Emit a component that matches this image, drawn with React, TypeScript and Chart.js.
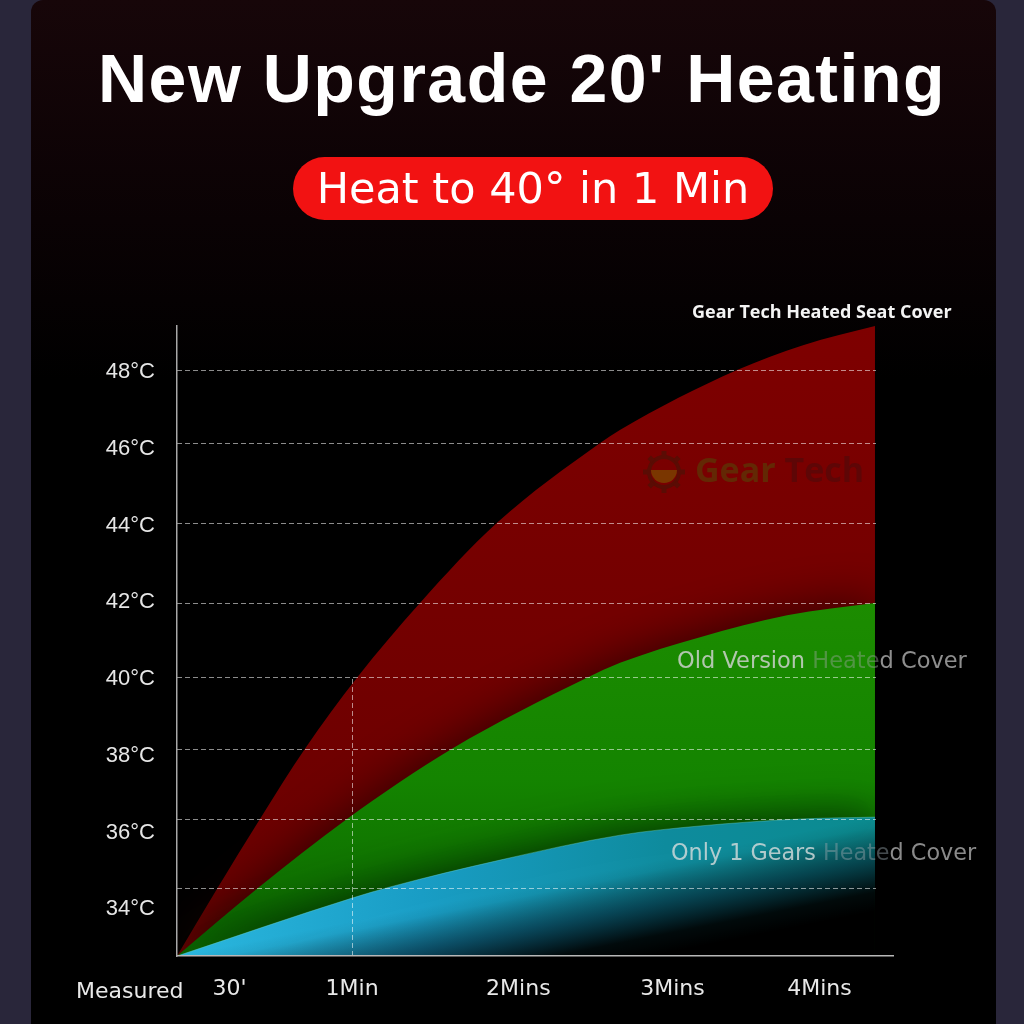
import React, { useEffect, useRef } from "react";
import { Chart, registerables } from "chart.js";

// ---------- data ----------
const gearTechMinutes = [0, 0.229, 0.474, 0.731, 1.028, 1.388, 1.828, 2.417, 2.53, 3.199, 3.576, 3.987];
const gearTechTemps = [32.78, 34.53, 36.35, 38.18, 40.03, 41.98, 44.07, 46.15, 46.49, 48.05, 48.7, 49.2];

const oldVersionMinutes = [0, 0.457, 0.971, 1.571, 2.342, 2.531, 2.988, 3.485, 3.987];
const oldVersionTemps = [32.78, 34.53, 36.35, 38.18, 40.03, 40.42, 41.09, 41.66, 41.98];

const oneGearMinutes = [0, 1.0, 1.217, 1.845, 2.531, 2.988, 3.559, 3.987];
const oneGearTemps = [32.78, 34.29, 34.58, 35.28, 35.93, 36.17, 36.35, 36.4];

const xTickValues = [0.3, 1, 1.95, 2.83, 3.67];
const xTickLabels = ["30'", "1Min", "2Mins", "3Mins", "4Mins"];
const yTickValues = [34, 36, 38, 40, 42, 44, 46, 48];
const gridValues = [34.53, 36.35, 38.17, 40.03, 41.98, 44.06, 46.15, 48.05];

const xMin = 0;
const xMax = 4.09;
const yMin = 32.78;
const yMax = 49.2;
const markerMinute = 1;
const markerTemp = 40;

// ---------- plugins ----------
const seriesShadow = {
  id: "seriesShadow",
  beforeDatasetDraw(chart: any, args: any) {
    const ds = chart.data.datasets[args.index];
    chart.ctx.save();
    if (ds && ds.shadowBlur) {
      chart.ctx.shadowColor = ds.shadowColor;
      chart.ctx.shadowBlur = ds.shadowBlur;
      chart.ctx.shadowOffsetX = 0;
      chart.ctx.shadowOffsetY = 0;
    }
  },
  afterDatasetDraw(chart: any) {
    chart.ctx.restore();
  },
};

Chart.register(seriesShadow);
Chart.register(...registerables);

const markerPlugin = {
  id: "oneMinuteMarker",
  afterDatasetsDraw(chart: any) {
    const { ctx, scales } = chart;
    const x = scales.x;
    const y = scales.y;
    const px = Math.round(x.getPixelForValue(markerMinute)) + 0.5;
    const top = y.getPixelForValue(markerTemp);
    const bottom = y.getPixelForValue(y.min);
    ctx.save();
    ctx.strokeStyle = "rgba(255,255,255,0.55)";
    ctx.lineWidth = 1;
    ctx.setLineDash([5, 3]);
    ctx.beginPath();
    ctx.moveTo(px, top);
    ctx.lineTo(px, bottom);
    ctx.stroke();
    ctx.restore();
  },
};

// gridlines stop where the series end; the x axis line keeps its full length
const gridClip = {
  id: "gridClip",
  afterDatasetsDraw(chart: any) {
    const { ctx, chartArea: a, scales } = chart;
    const endX = Math.ceil(scales.x.getPixelForValue(gearTechMinutes[gearTechMinutes.length - 1])) + 1;
    ctx.save();
    ctx.beginPath();
    ctx.rect(0, 0, endX, chart.height);
    ctx.rect(endX, a.bottom - 2, chart.width - endX, chart.height - a.bottom + 2);
    ctx.clip();
  },
  afterDraw(chart: any) {
    chart.ctx.restore();
  },
};

const toPoints = (xs: number[], ys: number[]) => xs.map((x, i) => ({ x, y: ys[i] }));

function redFill(c: any) {
  const a = c.chart.chartArea;
  if (!a) return "#760000";
  const g = c.chart.ctx.createLinearGradient(0, a.top, 0, a.bottom);
  g.addColorStop(0, "#7e0000");
  g.addColorStop(1, "#680000");
  return g;
}

function greenFill(c: any) {
  const a = c.chart.chartArea;
  if (!a) return "#148000";
  const top = c.chart.scales.y.getPixelForValue(42);
  const g = c.chart.ctx.createLinearGradient(0, top, 0, a.bottom);
  g.addColorStop(0, "#1c8c00");
  g.addColorStop(0.5, "#148400");
  g.addColorStop(1, "#0b6400");
  return g;
}

function cyanFill(c: any) {
  const chart = c.chart;
  const a = chart.chartArea;
  if (!a) return "#1a9cc0";
  const off = document.createElement("canvas");
  off.width = chart.width;
  off.height = chart.height;
  const o = off.getContext("2d") as CanvasRenderingContext2D;
  const h = o.createLinearGradient(a.left, 0, a.right - 18, 0);
  h.addColorStop(0, "#2cb8e0");
  h.addColorStop(0.35, "#1a9ec6");
  h.addColorStop(0.7, "#0f8c9e");
  h.addColorStop(1, "#0c8c90");
  o.fillStyle = h;
  o.fillRect(0, 0, off.width, off.height);
  const L = 92;
  const d = o.createLinearGradient(a.left, a.bottom, a.left + 0.195 * L, a.bottom + 0.981 * L);
  d.addColorStop(0, "rgba(0,0,0,0)");
  d.addColorStop(0.1, "rgba(0,0,0,0.05)");
  d.addColorStop(0.45, "rgba(0,12,24,0.55)");
  d.addColorStop(0.8, "rgba(0,0,0,0.93)");
  d.addColorStop(1, "rgba(0,0,0,1)");
  o.fillStyle = d;
  o.fillRect(0, 0, off.width, off.height);
  return chart.ctx.createPattern(off, "no-repeat");
}

// ---------- component ----------
export default function App() {
  const canvasRef = useRef<HTMLCanvasElement>(null);

  useEffect(() => {
    const canvas = canvasRef.current;
    if (!canvas) return;
    const chart = new Chart(canvas, {
      type: "line",
      data: {
        datasets: [
          {
            label: "Only 1 Gears Heated Cover",
            data: toPoints(oneGearMinutes, oneGearTemps),
            fill: "start",
            backgroundColor: cyanFill,
            borderColor: "rgba(120,220,215,0.35)",
            borderWidth: 1,
            pointRadius: 0,
            cubicInterpolationMode: "monotone",
            order: 1,
            shadowBlur: 45,
            shadowColor: "rgba(0,28,0,0.88)",
          } as any,
          {
            label: "Old Version Heated Cover",
            data: toPoints(oldVersionMinutes, oldVersionTemps),
            fill: "start",
            backgroundColor: greenFill,
            borderColor: "rgba(0,0,0,0)",
            borderWidth: 0,
            pointRadius: 0,
            cubicInterpolationMode: "monotone",
            order: 2,
            shadowBlur: 50,
            shadowColor: "rgba(34,0,0,0.88)",
          } as any,
          {
            label: "Gear Tech Heated Seat Cover",
            data: toPoints(gearTechMinutes, gearTechTemps),
            fill: "start",
            backgroundColor: redFill,
            borderColor: "rgba(0,0,0,0)",
            borderWidth: 0,
            pointRadius: 0,
            cubicInterpolationMode: "monotone",
            order: 3,
          } as any,
        ],
      },
      options: {
        animation: false,
        responsive: false,
        devicePixelRatio: 1,
        layout: { padding: { top: 326, right: 131, bottom: 0, left: 0 } },
        plugins: { legend: { display: false }, tooltip: { enabled: false } },
        scales: {
          x: {
            type: "linear",
            min: xMin,
            max: xMax,
            afterBuildTicks: (s: any) => {
              s.ticks = xTickValues.map((value) => ({ value }));
            },
            afterFit: (s: any) => {
              s.height = 68;
            },
            ticks: {
              autoSkip: false,
              maxRotation: 0,
              callback: (_v: any, i: number) => xTickLabels[i],
              font: { family: "DejaVu Sans", size: 22 },
              color: "#e8e8e8",
              padding: 20,
            },
            grid: { display: false, drawTicks: false },
            border: { display: true, color: "#b8b8b8", width: 1.5, z: 2 },
          },
          y: {
            type: "linear",
            position: "left",
            min: yMin,
            max: yMax,
            afterBuildTicks: (s: any) => {
              s.ticks = yTickValues.map((value) => ({ value }));
            },
            afterFit: (s: any) => {
              s.width = 177;
            },
            ticks: {
              callback: (v: any) => v + "°C",
              font: { family: "Liberation Sans", size: 22 },
              color: "#e6e6e6",
              padding: 22,
            },
            grid: { display: false, drawTicks: false },
            border: { display: true, color: "#a8a8a8", width: 1.5, z: 2 },
          },
          yGrid: {
            type: "linear",
            position: "right",
            min: yMin,
            max: yMax,
            afterBuildTicks: (s: any) => {
              s.ticks = gridValues.map((value) => ({ value }));
            },
            afterFit: (s: any) => {
              s.width = 0;
            },
            ticks: { display: false },
            grid: { display: true, color: "rgba(255,255,255,0.55)", lineWidth: 1, drawTicks: false, z: 1 },
            border: { display: false, dash: [5, 3] },
          },
        } as any,
      },
      plugins: [markerPlugin, gridClip],
    });
    return () => chart.destroy();
  }, []);

  const abs = (extra: React.CSSProperties): React.CSSProperties => ({
    position: "absolute",
    whiteSpace: "nowrap",
    lineHeight: 1,
    margin: 0,
    ...extra,
  });

  return (
    <div
      style={{
        position: "absolute",
        left: 0,
        top: 0,
        width: 1024,
        height: 1024,
        overflow: "hidden",
        background: "#29263a",
      }}
    >
      <div
        style={{
          position: "absolute",
          left: 31,
          top: 0,
          width: 965,
          height: 1060,
          borderRadius: "12px 12px 0 0",
          background: "linear-gradient(180deg, #170609 0px, #0a0204 220px, #000000 380px)",
        }}
      />
      <canvas
        ref={canvasRef}
        width={1024}
        height={1024}
        style={{ position: "absolute", left: 0, top: 0, width: 1024, height: 1024 }}
      />
      {/* title */}
      <div
        style={abs({
          left: 522,
          top: 44,
          transform: "translateX(-50%)",
          fontFamily: "'Liberation Sans', Arial, sans-serif",
          fontWeight: 700,
          fontSize: 68,
          letterSpacing: "1.5px",
          color: "#ffffff",
        })}
      >
        New Upgrade 20' Heating
      </div>
      {/* pill */}
      <div
        style={{
          position: "absolute",
          left: 293,
          top: 157,
          width: 480,
          height: 63,
          borderRadius: 32,
          background: "#f21212",
          color: "#ffffff",
          fontFamily: "'DejaVu Sans', sans-serif",
          fontSize: 43,
          lineHeight: "63px",
          textAlign: "center",
          whiteSpace: "nowrap",
        }}
      >
        Heat to 40° in 1 Min
      </div>
      {/* series labels */}
      <div
        style={abs({
          left: 692,
          top: 302,
          fontFamily: "'Open Sans', sans-serif",
          fontWeight: 700,
          fontSize: 18,
          color: "#f4f4f4",
        })}
      >
        Gear Tech Heated Seat Cover
      </div>
      <div style={abs({ left: 677, top: 649, fontFamily: "'DejaVu Sans', sans-serif", fontSize: 22.5 })}>
        <span style={{ color: "rgba(212,212,212,0.82)" }}>Old Version </span>
        <span style={{ color: "rgba(150,165,150,0.45)" }}>Heate</span>
        <span style={{ color: "#8e8e8e" }}>d Cover</span>
      </div>
      <div style={abs({ left: 671, top: 841, fontFamily: "'DejaVu Sans', sans-serif", fontSize: 22.3 })}>
        <span style={{ color: "rgba(212,220,220,0.82)" }}>Only 1 Gears </span>
        <span style={{ color: "rgba(150,165,170,0.45)" }}>Heate</span>
        <span style={{ color: "#8a8a8a" }}>d Cover</span>
      </div>
      {/* watermark */}
      <svg style={{ position: "absolute", left: 641, top: 447 }} width={46} height={46} viewBox="0 0 46 46">
        <g stroke="#5a0c04" strokeWidth={4} fill="none">
          <circle cx={23} cy={25} r={15} />
        </g>
        <g fill="#5a0c04">
          {[0, 45, 90, 135, 180, 225, 270, 315].map((a) => (
            <rect key={a} x={20.5} y={4} width={5} height={6} transform={`rotate(${a} 23 25)`} />
          ))}
        </g>
        <path d="M10 23 L36 23 A13 13 0 0 1 10 23 Z" fill="#7a3600" />
      </svg>
      <div
        style={abs({
          left: 695,
          top: 452,
          fontFamily: "'Open Sans', sans-serif",
          fontWeight: 700,
          fontSize: 34,
        })}
      >
        <span style={{ color: "#632804" }}>Gear</span>
        <span style={{ color: "#5e0606" }}> Tech</span>
      </div>
      {/* x-axis leading label */}
      <div style={abs({ left: 76, top: 980, fontFamily: "'DejaVu Sans', sans-serif", fontSize: 22, color: "#e8e8e8" })}>
        Measured
      </div>
    </div>
  );
}
